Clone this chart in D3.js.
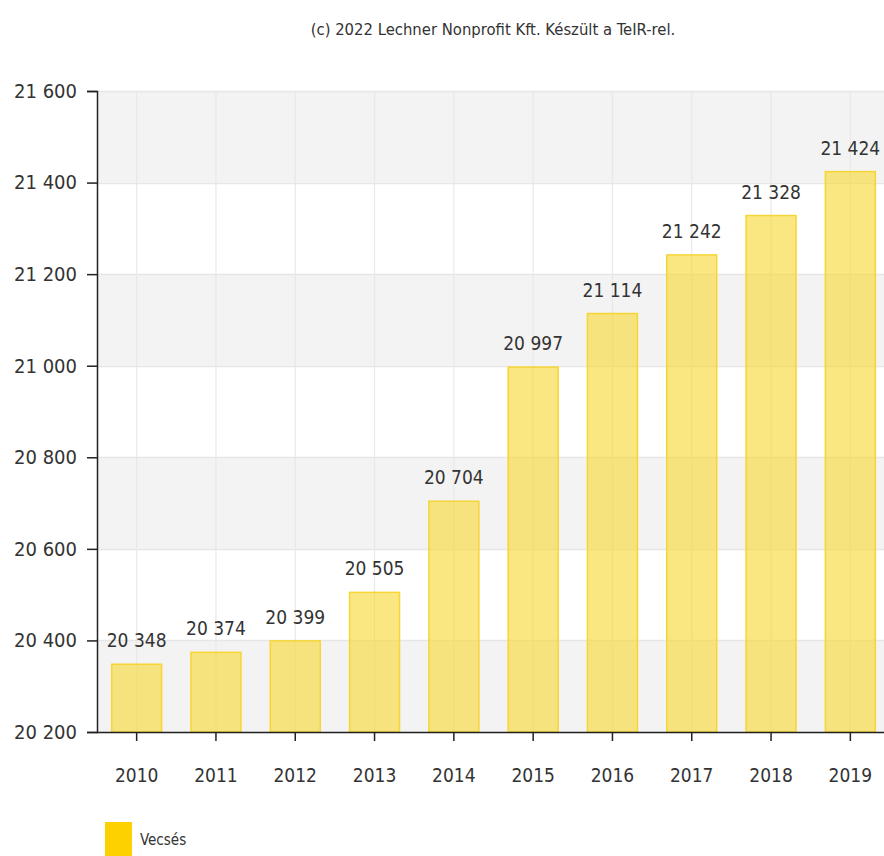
<!DOCTYPE html>
<html><head><meta charset="utf-8">
<script src="https://cdn.jsdelivr.net/npm/d3@7"></script>
<style>
body{margin:0;background:#fff;}
svg{display:block;}
text{font-family:"DejaVu Sans Condensed",sans-serif;fill:#333;}
</style></head><body>
<svg id="c" width="884" height="856"></svg>
<script>
const years = ["2010","2011","2012","2013","2014","2015","2016","2017","2018","2019"];
const values = [20348,20374,20399,20505,20704,20997,21114,21242,21328,21424];
const yTicks = [20200,20400,20600,20800,21000,21200,21400,21600];
const seriesName = "Vecsés";
const credit = "(c) 2022 Lechner Nonprofit Kft. Készült a TeIR-rel.";

(function(){
const svg = d3.select("#c");
const pL = 97, pR = 890, pT = 91, pB = 732;
const FONT = '"DejaVu Sans Condensed",sans-serif';
const fmt = v => d3.format(",")(v).replace(/,/g, " ");

const x = d3.scaleBand().domain(years).range([pL, pR]).paddingInner(0.37).paddingOuter(0.185);
const y = d3.scaleLinear().domain([20200, 21600]).range([pB, pT]);

const bands = d3.range(yTicks.length - 1).map(i => [yTicks[i], yTicks[i+1], i]);
svg.append("g").selectAll("rect").data(bands).join("rect")
  .attr("x", pL).attr("width", 884 - pL)
  .attr("y", d => y(d[1])).attr("height", d => y(d[0]) - y(d[1]))
  .attr("fill", d => d[2] % 2 === 0 ? "#f3f3f3" : "#ffffff");

svg.append("g").selectAll("line").data(yTicks).join("line")
  .attr("x1", pL).attr("x2", 884)
  .attr("y1", d => Math.round(y(d)) + 0.5).attr("y2", d => Math.round(y(d)) + 0.5)
  .attr("stroke", "#e6e6e6").attr("stroke-width", 1.5);

svg.append("g").selectAll("line").data(years).join("line")
  .attr("x1", d => x(d) + x.bandwidth()/2).attr("x2", d => x(d) + x.bandwidth()/2)
  .attr("y1", pT).attr("y2", pB)
  .attr("stroke", "#e8e8e8").attr("stroke-width", 1.2);

svg.append("g").selectAll("rect").data(years).join("rect")
  .attr("x", d => x(d)).attr("width", x.bandwidth())
  .attr("y", (d,i) => y(values[i])).attr("height", (d,i) => pB - y(values[i]))
  .attr("fill", "#f8d834").attr("fill-opacity", 0.62)
  .attr("stroke", "#f6d535").attr("stroke-width", 1.5);

svg.append("g").selectAll("text").data(years).join("text")
  .attr("x", d => x(d) + x.bandwidth()/2)
  .attr("y", (d,i) => y(values[i]) - 17)
  .attr("text-anchor", "middle").attr("font-size", 19)
  .text((d,i) => fmt(values[i]));

const ya = svg.append("g").attr("transform", `translate(${pL},0)`)
  .call(d3.axisLeft(y).tickValues(yTicks).tickFormat(fmt).tickSize(10).tickPadding(10));
ya.selectAll("path,line").attr("stroke", "#222").attr("stroke-width", 1.5);
ya.selectAll("text").attr("font-size", 20).attr("fill", "#333").style("font-family", FONT);

const xa = svg.append("g").attr("transform", `translate(0,${pB})`)
  .call(d3.axisBottom(x).tickSize(9).tickSizeOuter(0).tickPadding(28));
xa.select(".domain").attr("d", `M${pL},0.5H884`);
xa.selectAll("path,line").attr("stroke", "#222").attr("stroke-width", 1.5);
xa.selectAll("text").attr("font-size", 19).attr("fill", "#333").style("font-family", FONT);

svg.append("text").attr("x", 493).attr("y", 35).attr("text-anchor", "middle")
  .attr("font-size", 16.5).attr("fill", "#444").text(credit);

svg.append("rect").attr("x", 105).attr("y", 822).attr("width", 27).attr("height", 34).attr("fill", "#fdd100");
svg.append("text").attr("x", 140).attr("y", 845).attr("font-size", 15).attr("fill", "#444").text(seriesName);
})();
</script></body></html>
